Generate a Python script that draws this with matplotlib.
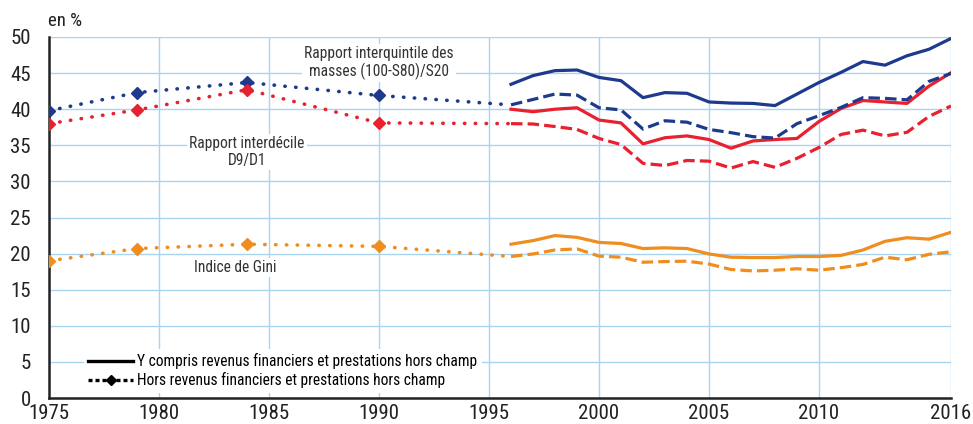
import matplotlib
matplotlib.use("Agg")
import matplotlib.pyplot as plt
from matplotlib import font_manager

# police étroite proche de l'original si disponible
available = set(f.name for f in font_manager.fontManager.ttflist)
for pref in ['Roboto Condensed', 'Liberation Sans Narrow', 'Archivo Narrow', 'PT Sans Narrow',
             'Open Sans Condensed', 'Encode Sans Condensed', 'IBM Plex Sans Condensed',
             'Fira Sans Condensed', 'Asap Condensed', 'Barlow Condensed']:
    if pref in available:
        main_font = pref
        break
else:
    main_font = 'DejaVu Sans'
plt.rcParams['font.family'] = [main_font, 'DejaVu Sans']

# années anciennes (séries hors revenus financiers, pointillés)
old_years = [1975, 1979, 1984, 1990, 1996]
old_quint = [39.8, 42.3, 43.7, 41.9, 40.6]
old_decile = [38.0, 39.9, 42.7, 38.1, 38.0]
old_gini = [19.0, 20.7, 21.3, 21.0, 19.6]

years = list(range(1996, 2017))
quint_y = [43.45, 44.65, 45.34, 45.43, 44.4, 43.95, 41.6, 42.3, 42.2, 41.0, 40.85,
           40.8, 40.5, 42.1, 43.7, 45.1, 46.6, 46.1, 47.4, 48.3, 49.8]
quint_h = [40.6, 41.35, 42.1, 41.95, 40.2, 39.9, 37.25, 38.4, 38.2, 37.2, 36.75,
           36.2, 36.0, 38.0, 39.1, 40.25, 41.6, 41.5, 41.3, 43.85, 44.95]
dec_y = [40.0, 39.65, 40.0, 40.2, 38.5, 38.1, 35.2, 36.05, 36.3, 35.8, 34.6,
         35.6, 35.8, 35.95, 38.3, 40.1, 41.2, 41.0, 40.8, 43.2, 45.05]
dec_h = [38.0, 37.95, 37.6, 37.2, 35.95, 35.1, 32.5, 32.2, 32.9, 32.8, 31.85,
         32.75, 31.95, 33.2, 34.7, 36.5, 37.1, 36.3, 36.8, 39.0, 40.45]
gini_y = [21.3, 21.8, 22.5, 22.25, 21.55, 21.4, 20.7, 20.8, 20.7, 19.95, 19.5,
          19.45, 19.45, 19.6, 19.6, 19.75, 20.5, 21.7, 22.2, 22.0, 22.95]
gini_h = [19.6, 19.95, 20.5, 20.65, 19.65, 19.5, 18.8, 18.9, 18.95, 18.55, 17.8,
          17.6, 17.7, 17.9, 17.7, 18.05, 18.5, 19.5, 19.15, 19.9, 20.25]

xticks = [1975, 1980, 1985, 1990, 1995, 2000, 2005, 2010, 2016]

blue = '#1d3a8c'
red = '#e8202f'
orange = '#f08d1f'
grid_c = '#a8d4f0'

fig = plt.figure(figsize=(9.73, 4.24), dpi=100)
ax = fig.add_axes([49 / 973, 1 - 398 / 424, 902 / 973, 361 / 424])

lw = 2.3
dot = (0, (0.1, 2.9))
for vals, c in [(old_quint, blue), (old_decile, red), (old_gini, orange)]:
    ax.plot(old_years, vals, color=c, lw=lw + 0.3, ls=dot, dash_capstyle='round', zorder=3)
    ax.plot(old_years[:-1], vals[:-1], color=c, ls='none', marker='D', ms=6.5, zorder=4)

for vals, c in [(quint_y, blue), (dec_y, red), (gini_y, orange)]:
    ax.plot(years, vals, color=c, lw=lw, ls='-', zorder=3)
for vals, c in [(quint_h, blue), (dec_h, red), (gini_h, orange)]:
    ax.plot(years, vals, color=c, lw=lw, ls=(0, (3.6, 1.6)), zorder=3)

ax.set_xlim(1975, 2016)
ax.set_ylim(0, 50)
ax.set_xticks(xticks)
ax.set_yticks(range(0, 51, 5))
ax.tick_params(length=0, labelsize=15, colors='#222222')
ax.tick_params(axis='y', pad=13)
ax.tick_params(axis='x', pad=4)
ax.grid(True, color=grid_c, lw=1.0, zorder=0)
ax.set_axisbelow(True)
for s in ['top', 'right']:
    ax.spines[s].set_visible(False)
for s in ['left', 'bottom']:
    ax.spines[s].set_linewidth(1.8)
    ax.spines[s].set_color('#222222')

txt = dict(fontsize=11.2, color='#333333', ha='center', va='center', zorder=5,
           linespacing=1.2, bbox=dict(facecolor='white', edgecolor='none', pad=1.5))
ax.text(1990.0, 46.4, "Rapport interquintile des\nmasses (100-S80)/S20", **txt)
ax.text(1984.0, 34.1, "Rapport interdécile\nD9/D1", **txt)
ax.text(1983.45, 18.05, "Indice de Gini", **txt)

ax.text(-0.001, 1.02, "en %", transform=ax.transAxes, fontsize=13.5, color='#222222',
        ha='left', va='bottom')

h1, = ax.plot([], [], color='black', lw=2.4, ls='-')
h2, = ax.plot([], [], color='black', lw=2.4, ls=(0, (1.2, 0.9)), marker='D', ms=5.5)
leg = ax.legend([h1, h2], ["Y compris revenus financiers et prestations hors champ",
                           "Hors revenus financiers et prestations hors champ"],
                loc='lower left', bbox_to_anchor=(0.035, 0.005), frameon=True,
                fontsize=11.2, handlelength=2.9, handletextpad=0.25, labelspacing=0.2,
                borderpad=0.3, borderaxespad=0.2)
leg.get_frame().set_facecolor('white')
leg.get_frame().set_edgecolor('none')
leg.get_frame().set_alpha(1)
leg.set_zorder(6)

fig.savefig("out.png", dpi=100)
